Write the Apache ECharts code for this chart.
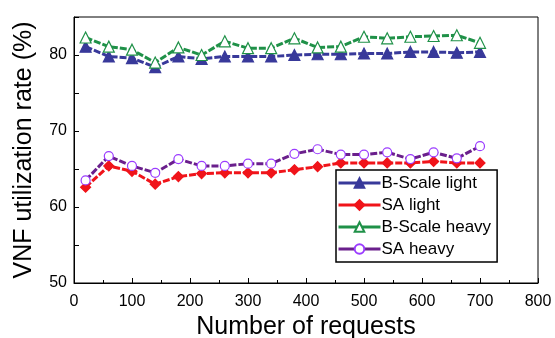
<!DOCTYPE html>
<html>
<head>
<meta charset="utf-8">
<script src="https://cdn.jsdelivr.net/npm/echarts@6/dist/echarts.min.js"></script>
<style>
  html, body { margin: 0; padding: 0; background: #fff; }
  #myChart { width: 555px; height: 338px; }
</style>
</head>
<body>
<div id="myChart"></div>
<script>
  // 横轴：请求数
  const requests = [20, 60, 100, 140, 180, 220, 260, 300, 340, 380, 420, 460, 500, 540, 580, 620, 660, 700]
  const bScaleLight = [81.1, 79.8, 79.6, 78.4, 79.8, 79.5, 79.8, 79.8, 79.8, 80.0, 80.1, 80.1, 80.2, 80.2, 80.4, 80.4, 80.3, 80.4]
  const saLight = [62.6, 65.4, 64.7, 63.0, 64.0, 64.4, 64.5, 64.5, 64.5, 64.9, 65.3, 65.8, 65.8, 65.8, 65.8, 66.0, 65.8, 65.8]
  const bScaleHeavy = [82.3, 81.1, 80.7, 79.0, 81.0, 80.0, 81.8, 80.9, 80.9, 82.2, 81.0, 81.1, 82.4, 82.2, 82.4, 82.5, 82.6, 81.6]
  const saHeavy = [63.5, 66.7, 65.4, 64.5, 66.3, 65.4, 65.4, 65.7, 65.7, 67.0, 67.6, 66.9, 66.9, 67.2, 66.3, 67.2, 66.4, 68.0]
  const seriesNames = ['B-Scale light', 'SA light', 'B-Scale heavy', 'SA heavy']

  function pairs(vals) {
    return requests.map((x, i) => [x, vals[i]])
  }

  let myChart = echarts.init(document.getElementById('myChart'))
  const font = 'Arial, "Liberation Sans", sans-serif'

  function line(name, vals, color, symbol, size, fill, border) {
    return {
      name: name,
      type: 'line',
      data: pairs(vals),
      symbol: symbol,
      symbolSize: size,
      lineStyle: { color: color, width: 3, type: [7, 2] },
      itemStyle: { color: fill, borderColor: border, borderWidth: 1.2 },
      z: 3
    }
  }

  myChart.setOption({
    animation: false,
    textStyle: { fontFamily: font },
    grid: {
      left: 74, right: 17, top: 17, bottom: 55,
      containLabel: false,
      outerBoundsMode: 'none',
      show: true, borderColor: '#000', borderWidth: 1, backgroundColor: 'transparent'
    },
    legend: {
      data: seriesNames.map(n => ({ name: n, itemStyle: {}, lineStyle: { type: 'solid', width: 3 } })),
      orient: 'vertical',
      left: 336, top: 170,
      width: 167,
      itemWidth: 42, itemHeight: 12, itemGap: 4,
      padding: [4, 6, 4, 1],
      backgroundColor: '#fff',
      borderColor: '#000', borderWidth: 1.5,
      textStyle: { fontSize: 17, lineHeight: 18, color: '#000', fontFamily: font, padding: [0, 0, 0, -4] }
    },
    xAxis: {
      type: 'value',
      min: 0, max: 800, interval: 100,
      name: 'Number of requests',
      nameLocation: 'middle',
      nameGap: 31,
      nameTextStyle: { fontSize: 25, color: '#000', fontFamily: font },
      axisLine: { lineStyle: { color: '#000', width: 1 } },
      axisTick: { inside: true, length: 5, lineStyle: { color: '#000' } },
      minorTick: { show: true, splitNumber: 2, length: 3, lineStyle: { color: '#000' } },
      axisLabel: { fontSize: 16, color: '#000', margin: 11 },
      splitLine: { show: false }
    },
    yAxis: {
      type: 'value',
      min: 50, max: 85, interval: 5,
      name: 'VNF utilization rate (%)',
      nameLocation: 'middle',
      nameGap: 37,
      nameTextStyle: { fontSize: 25, color: '#000', fontFamily: font },
      axisLine: { show: true, lineStyle: { color: '#000', width: 1 } },
      axisTick: { inside: true, length: 5, lineStyle: { color: '#000' } },
      axisLabel: {
        fontSize: 16, color: '#000', margin: 7,
        formatter: v => (v % 10 === 0 ? String(v) : '')
      },
      splitLine: { show: false }
    },
    series: [
      line(seriesNames[0], bScaleLight, '#38399a', 'triangle', 11, '#38399a', '#38399a'),
      line(seriesNames[1], saLight, '#f0141a', 'diamond', 10, '#f0141a', '#f0141a'),
      line(seriesNames[2], bScaleHeavy, '#1f9148', 'triangle', 11, '#fff', '#1f9148'),
      line(seriesNames[3], saHeavy, '#6a1f8c', 'circle', 9, '#fff', '#9b3cff')
    ]
  })
</script>
</body>
</html>
